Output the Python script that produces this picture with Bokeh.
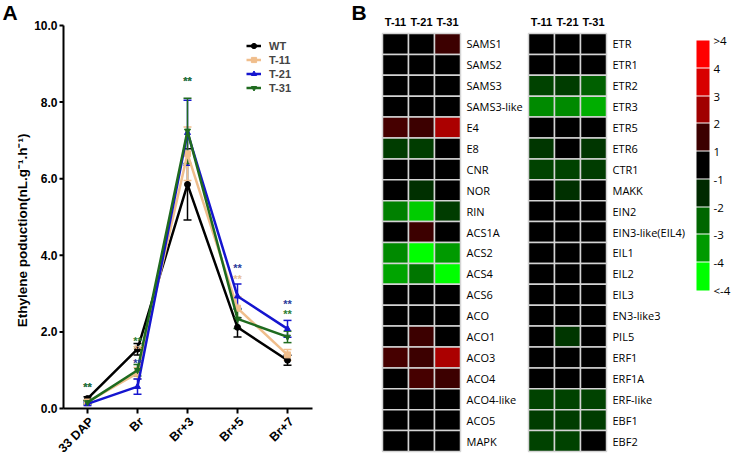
import numpy as np
from bokeh.plotting import figure
from bokeh.models import (ColumnDataSource, Range1d, Whisker, TeeHead,
                          Legend, LegendItem, FixedTicker, LinearColorMapper, ColorBar)
from bokeh.embed import file_html
from bokeh.resources import INLINE
from bokeh.core.properties import value

# ---------------- Panel A data ----------------
stages = ["33 DAP", "Br", "Br+3", "Br+5", "Br+7"]
series_names = ["WT", "T-11", "T-21", "T-31"]
wt_mean = [0.26, 1.55, 5.85, 2.12, 1.26]
t11_mean = [0.17, 0.92, 6.65, 2.62, 1.40]
t21_mean = [0.12, 0.57, 7.20, 2.93, 2.08]
t31_mean = [0.16, 1.00, 7.25, 2.34, 1.87]
wt_err = [0.05, 0.15, 0.93, 0.25, 0.13]
t11_err = [0.05, 0.15, 0.70, 0.30, 0.14]
t21_err = [0.04, 0.20, 0.85, 0.32, 0.22]
t31_err = [0.04, 0.15, 0.85, 0.25, 0.15]
y_ticks = [0, 2, 4, 6, 8, 10]
y_label = "Ethylene poduction(nL.g\u207b\u00b9.h\u207b\u00b9)"

star_stage = ["33 DAP", "33 DAP", "Br", "Br", "Br", "Br+3", "Br+3", "Br+5", "Br+5", "Br+7", "Br+7"]
star_y = [0.57, 0.57, 1.77, 1.56, 1.20, 8.54, 8.54, 3.68, 3.38, 2.73, 2.47]
star_series = ["T-21", "T-31", "T-31", "T-11", "T-21", "T-21", "T-31", "T-21", "T-11", "T-21", "T-31"]
star_text = ["**"] * len(star_stage)

# ---------------- Panel B data ----------------
samples = ["T-11", "T-21", "T-31"]
genes_left = ["SAMS1", "SAMS2", "SAMS3", "SAMS3-like", "E4", "E8", "CNR", "NOR", "RIN", "ACS1A",
              "ACS2", "ACS4", "ACS6", "ACO", "ACO1", "ACO3", "ACO4", "ACO4-like", "ACO5", "MAPK"]
left_t11 = [0, 0, 0, 0, 1.6, -1.8, 0, 0, -3.0, 0, -3.2, -3.6, 0, 0, 0, 1.6, 0, 0, 0, 0]
left_t21 = [0, 0, 0, 0, 1.5, -1.8, 0, -1.6, -4.0, 1.5, -4.5, -2.8, 0, 0, 1.5, 1.5, 1.6, 0, 0, 0]
left_t31 = [1.5, 0, 0, 0, 2.7, 0, 0, 0, -1.8, 0, -3.5, -4.5, 0, 0, 0, 2.7, 1.5, 0, 0, 0]

genes_right = ["ETR", "ETR1", "ETR2", "ETR3", "ETR5", "ETR6", "CTR1", "MAKK", "EIN2", "EIN3-like(EIL4)",
               "EIL1", "EIL2", "EIL3", "EN3-like3", "PIL5", "ERF1", "ERF1A", "ERF-like", "EBF1", "EBF2"]
right_t11 = [0, 0, -1.9, -3.2, 0, -1.7, -1.9, 0, 0, 0, 0, 0, 0, 0, 0, 0, 0, -1.9, -1.8, -1.9]
right_t21 = [0, 0, -1.8, -3.2, 0, 0, -1.9, -1.6, 0, 0, 0, 0, 0, 0, -1.7, 0, 0, -1.9, -1.8, -1.9]
right_t31 = [0, 0, -2.4, -3.7, 0, -1.7, -1.8, 0, 0, 0, 0, 0, 0, 0, 0, 0, 0, -1.9, -1.8, 0]

cb_labels = ["<-4", "-4", "-3", "-2", "-1", "1", "2", "3", "4", ">4"]
cb_colors = ["#00FF00", "#009A00", "#006600", "#002A00", "#000000", "#3C0000", "#A00000", "#D80000", "#FF0000"]
anchor_vals = [-4.5, -3.5, -2.5, -1.5, 0.0, 1.5, 2.5, 3.5, 4.5]

FONT = "Liberation Sans"
FONT2 = "Open Sans"
colors = {"WT": "#000000", "T-11": "#F0BE8C", "T-21": "#1515CF", "T-31": "#1F6B1F"}
star_colors = {"WT": "#000000", "T-11": "#E8BE96", "T-21": "#2B3A9B", "T-31": "#2E7D32"}
markers = {"WT": "circle", "T-11": "square", "T-21": "triangle", "T-31": "inverted_triangle"}

# ---------------- layout (canvas pixels) ----------------
W, H = 733, 455
# panel A: y=0 at 408, y=10 at 25; first stage at x=87, 50 px per stage, y axis at x=63
a_py = (408 - 25) / 10.0
a_px = 50.0
a_y0 = -(H - 408) / a_py
a_y1 = 10 + 25 / a_py
a_x0 = -87 / a_px
a_x1 = a_x0 + W / a_px
AX = (63 - 87) / a_px
# heatmaps: rows from y=33 to 451, 26 px columns
n_rows = len(genes_left)
row_px = (451 - 33) / n_rows
hy0 = -0.5 - (H - 451) / row_px
hy1 = hy0 + H / row_px
col_px = 26.0
hl0 = -395 / col_px
hr0 = -541 / col_px

p = figure(width=W, height=H, title=None, x_range=Range1d(a_x0, a_x1), y_range=Range1d(a_y0, a_y1),
           x_axis_location=None, y_axis_location=None,
           output_backend="svg", toolbar_location=None,
           min_border_left=0, min_border_right=0, min_border_top=0, min_border_bottom=0)
p.extra_x_ranges = {"hl": Range1d(hl0, hl0 + W / col_px), "hr": Range1d(hr0, hr0 + W / col_px)}
p.extra_y_ranges = {"hy": Range1d(hy0, hy1)}
p.outline_line_color = None
p.grid.grid_line_color = None
p.background_fill_color = "#FFFFFF"

# ---------------- Panel A ----------------
stage_idx = list(range(len(stages)))
pos = dict(zip(stages, stage_idx))
means = {"WT": wt_mean, "T-11": t11_mean, "T-21": t21_mean, "T-31": t31_mean}
errs = {"WT": wt_err, "T-11": t11_err, "T-21": t21_err, "T-31": t31_err}

# axes of panel A (drawn through the data scales)
p.segment(x0=[AX], y0=[y_ticks[0]], x1=[AX], y1=[y_ticks[-1]], line_color="#000000", line_width=2)
p.segment(x0=[AX] * len(y_ticks), y0=y_ticks, x1=[AX - 4 / a_px] * len(y_ticks), y1=y_ticks,
          line_color="#000000", line_width=2)
p.text(x=[AX] * len(y_ticks), y=y_ticks, text=[f"{t:.1f}" for t in y_ticks], x_offset=-6,
       text_align="right", text_baseline="middle", text_font=value(FONT), text_font_style="bold",
       text_font_size="12px", text_color="#000000")
p.text(x=[AX - 41 / a_px], y=[4.65], text=[y_label], angle=np.pi / 2, text_align="center",
       text_baseline="middle", text_font=value(FONT), text_font_style="bold",
       text_font_size="13.5px", text_color="#000000")
p.segment(x0=[AX], y0=[0], x1=[len(stages) - 0.5], y1=[0], line_color="#000000", line_width=2)
p.segment(x0=stage_idx, y0=[0] * len(stages), x1=stage_idx, y1=[-5 / a_py] * len(stages),
          line_color="#000000", line_width=2)
p.text(x=stage_idx, y=[-11 / a_py] * len(stages), text=stages, x_offset=4, angle=np.pi / 4,
       text_align="right", text_baseline="middle", text_font=value(FONT), text_font_style="bold",
       text_font_size="12.5px", text_color="#000000")
p.text(x=[a_x0], y=[a_y1], text=["A"], x_offset=2, text_align="left", text_baseline="top",
       text_font=value(FONT), text_font_style="bold", text_font_size="21px", text_color="#000000")

items = []
for name in series_names:
    m = np.array(means[name]); e = np.array(errs[name])
    src = ColumnDataSource(dict(x=stage_idx, y=m, upper=m + e, lower=m - e))
    c = colors[name]
    p.add_layout(Whisker(base="x", upper="upper", lower="lower", source=src, line_color=c, line_width=1.5,
                         upper_head=TeeHead(size=8, line_color=c, line_width=1.5),
                         lower_head=TeeHead(size=8, line_color=c, line_width=1.5)))
    ln = p.line("x", "y", source=src, line_color=c, line_width=2.5)
    sc = p.scatter("x", "y", source=src, marker=markers[name], size=6, fill_color=c, line_color=c)
    items.append(LegendItem(label=name, renderers=[ln, sc]))

ssrc = ColumnDataSource(dict(x=[pos[s] for s in star_stage], y=star_y, t=star_text,
                             c=[star_colors[s] for s in star_series]))
p.text(x="x", y="y", text="t", source=ssrc, text_color="c", text_align="center",
       text_baseline="middle", text_font=value(FONT), text_font_style="bold", text_font_size="11px")

leg_h = 4 * 14 + 10
leg = Legend(items=items, location=(246, H - 28 - leg_h), padding=5, spacing=1,
             glyph_width=15, glyph_height=13, label_height=13, label_width=25, label_standoff=8,
             label_text_font=FONT, label_text_font_style="bold", label_text_font_size="11px",
             border_line_color=None, background_fill_alpha=0)
p.add_layout(leg)


# ---------------- Panel B ----------------
def to_rgb(h):
    return np.array([int(h[i:i + 2], 16) for i in (1, 3, 5)], dtype=float)


anchor_rgb = np.array([to_rgb(c) for c in cb_colors])


def val_color(v):
    if -1 < v < 1:
        return "#000000"
    rgb = [np.interp(v, anchor_vals, anchor_rgb[:, k]) for k in range(3)]
    return "#%02X%02X%02X" % tuple(int(round(x)) for x in rgb)


def heatmap(genes, cols, xr):
    n = len(genes)
    xs, ys, cs = [], [], []
    for ci, vals in enumerate(cols):
        for r, v in enumerate(vals):
            xs.append(ci); ys.append(n - 1 - r); cs.append(val_color(v))
    p.rect(x="x", y="y", width=1, height=1, source=ColumnDataSource(dict(x=xs, y=ys, c=cs)),
           fill_color="c", line_color="#D4D4D4", line_width=1.5, x_range_name=xr, y_range_name="hy")
    p.text(x=[len(samples) - 0.5] * n, y=[n - 1 - r for r in range(n)], text=genes, x_offset=6,
           text_align="left", text_baseline="middle", text_font=value(FONT2), text_font_size="11px",
           text_color="#000000", x_range_name=xr, y_range_name="hy")
    p.text(x=list(range(len(samples))), y=[n - 0.5 + 0.53] * len(samples), text=samples,
           text_align="center", text_baseline="middle", text_font=value(FONT), text_font_style="bold",
           text_font_size="11px", text_color="#000000", x_range_name=xr, y_range_name="hy")
    return n


heatmap(genes_left, [left_t11, left_t21, left_t31], "hl")
heatmap(genes_right, [right_t11, right_t21, right_t31], "hr")
p.text(x=[-0.5], y=[hy1], text=["B"], x_offset=-31, text_align="left", text_baseline="top",
       text_font=value(FONT), text_font_style="bold", text_font_size="21px", text_color="#000000",
       x_range_name="hl", y_range_name="hy")

# color bar with thin white separators
pal = []
for i, c in enumerate(cb_colors):
    if i > 0:
        pal.append("#FFFFFF")
        pal.extend([c] * 27)
    else:
        pal.extend([c] * 28)
mapper = LinearColorMapper(palette=pal, low=0, high=len(cb_colors))
cb = ColorBar(color_mapper=mapper, ticker=FixedTicker(ticks=list(range(len(cb_labels)))),
              major_label_overrides={i: lab for i, lab in enumerate(cb_labels)},
              width=13, height=250, location=(696, H - 290), margin=0, padding=0,
              major_tick_line_color=None, minor_tick_line_color=None, bar_line_color=None,
              label_standoff=4, major_label_text_font=FONT2, major_label_text_font_size="11.5px",
              major_label_text_color="#000000", background_fill_alpha=0, border_line_color=None)
p.add_layout(cb)

open("out.html", "w").write(file_html(p, INLINE))
